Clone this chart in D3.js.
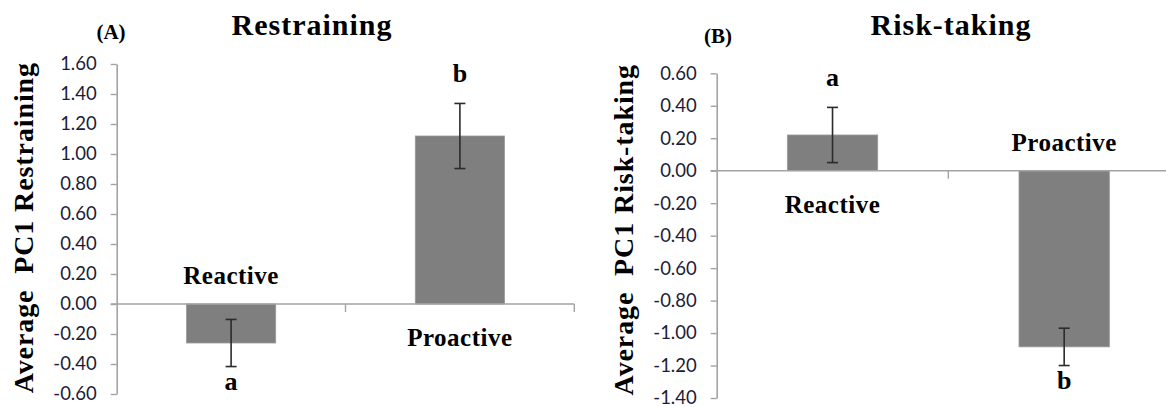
<!DOCTYPE html>
<html>
<head>
<meta charset="utf-8">
<script src="https://cdn.jsdelivr.net/npm/d3@7"></script>
<style>
  body { margin: 0; background: #fff; }
  svg { display: block; }
</style>
</head>
<body>
<svg id="chart" width="1166" height="407"></svg>
<script>
// data
const categories = ["Reactive", "Proactive"];
const restrainMean = [-0.26, 1.12];
const restrainErr = [0.157, 0.217];
const restrainLetters = ["a", "b"];
const restrainTicks = [-0.6, -0.4, -0.2, 0, 0.2, 0.4, 0.6, 0.8, 1.0, 1.2, 1.4, 1.6];

const riskMean = [0.22, -1.085];
const riskErr = [0.17, 0.115];
const riskLetters = ["a", "b"];
const riskTicks = [-1.4, -1.2, -1.0, -0.8, -0.6, -0.4, -0.2, 0, 0.2, 0.4, 0.6];

let svg = d3.select("#chart");
let serif = "'Liberation Serif', 'Times New Roman', serif";
let tickFont = "Lato, 'Liberation Sans', sans-serif";
let axisGrey = "#a3a3a3";
let barGrey = "#7f7f7f";

function drawPanel(p) {
  let g = svg.append("g");

  let y = d3.scaleLinear()
    .domain(d3.extent(p.ticks))
    .range([p.bottom, p.top]);

  let x = d3.scaleBand()
    .domain(categories)
    .range([p.left, p.right])
    .padding(0);

  let bw = x.step() * 0.39;
  let data = categories.map((c, i) => ({cat: c, mean: p.mean[i], err: p.err[i], letter: p.letters[i]}));

  // y axis
  let yAxis = d3.axisLeft(y)
    .tickValues(p.ticks)
    .tickSize(6)
    .tickSizeOuter(0)
    .tickPadding(14)
    .tickFormat(d => d.toFixed(2));

  let ya = g.append("g")
    .attr("transform", "translate(" + p.left + ",0)")
    .call(yAxis);
  ya.select(".domain").attr("stroke", axisGrey).attr("stroke-width", 1.6);
  ya.selectAll(".tick line").attr("stroke", axisGrey).attr("stroke-width", 1.4);
  ya.selectAll(".tick text")
    .style("font-family", tickFont)
    .style("font-size", "18.5px")
    .attr("fill", "#1c1c3a");

  // bars
  g.selectAll(".bar")
    .data(data)
    .enter().append("rect")
    .attr("class", "bar")
    .attr("x", d => x(d.cat) + (x.bandwidth() - bw) / 2)
    .attr("width", bw)
    .attr("y", d => y(Math.max(0, d.mean)))
    .attr("height", d => Math.abs(y(d.mean) - y(0)))
    .attr("fill", barGrey)
    .attr("stroke", "#9a9a9a")
    .attr("stroke-width", 0.8);

  // zero line + category ticks
  g.append("line")
    .attr("x1", p.left - 6).attr("x2", p.right)
    .attr("y1", y(0)).attr("y2", y(0))
    .attr("stroke", axisGrey)
    .attr("stroke-width", 1.4);

  let bounds = categories.map(c => x(c) + x.step());
  g.selectAll(".cattick")
    .data(bounds)
    .enter().append("line")
    .attr("x1", d => d).attr("x2", d => d)
    .attr("y1", y(0)).attr("y2", y(0) + 8)
    .attr("stroke", axisGrey)
    .attr("stroke-width", 1.4);

  // error bars
  let cx = d => x(d.cat) + x.bandwidth() / 2;
  let eb = g.selectAll(".err").data(data).enter().append("g");
  eb.append("line")
    .attr("x1", cx).attr("x2", cx)
    .attr("y1", d => y(d.mean + d.err)).attr("y2", d => y(d.mean - d.err));
  eb.append("line")
    .attr("x1", d => cx(d) - 5.5).attr("x2", d => cx(d) + 5.5)
    .attr("y1", d => y(d.mean + d.err)).attr("y2", d => y(d.mean + d.err));
  eb.append("line")
    .attr("x1", d => cx(d) - 5.5).attr("x2", d => cx(d) + 5.5)
    .attr("y1", d => y(d.mean - d.err)).attr("y2", d => y(d.mean - d.err));
  eb.selectAll("line").attr("stroke", "#2b2b2b").attr("stroke-width", 1.6);

  // category names on the other side of zero
  g.selectAll(".catlabel")
    .data(data)
    .enter().append("text")
    .attr("x", cx)
    .attr("y", d => d.mean < 0 ? y(0) - 20 : y(0) + 42)
    .attr("text-anchor", "middle")
    .style("font-family", serif)
    .style("font-weight", "bold")
    .style("font-size", "25px")
    .style("letter-spacing", "0.5px")
    .text(d => d.cat);

  // significance letters
  g.selectAll(".letter")
    .data(data)
    .enter().append("text")
    .attr("x", cx)
    .attr("y", d => d.mean >= 0 ? y(d.mean + d.err) - 21 : y(d.mean - d.err) + 23)
    .attr("text-anchor", "middle")
    .style("font-family", serif)
    .style("font-weight", "bold")
    .style("font-size", "26px")
    .text(d => d.letter);

  // y axis title
  g.append("text")
    .attr("transform", "translate(" + p.ylabX + "," + p.ylabTop + ") rotate(-90)")
    .attr("text-anchor", "end")
    .style("font-family", serif)
    .style("font-weight", "bold")
    .style("font-size", "28px")
    .style("letter-spacing", "0.9px")
    .style("white-space", "pre")
    .text(p.ylabel);

  // panel letter and title
  g.append("text")
    .attr("x", p.tagX).attr("y", p.tagY)
    .attr("text-anchor", "middle")
    .style("font-family", serif)
    .style("font-weight", "bold")
    .style("font-size", "21px")
    .text(p.tag);

  g.append("text")
    .attr("x", p.titleX).attr("y", 35)
    .attr("text-anchor", "middle")
    .style("font-family", serif)
    .style("font-weight", "bold")
    .style("font-size", "30px")
    .style("letter-spacing", "1px")
    .text(p.title);
}

drawPanel({
  left: 116.7, right: 574.3, top: 64, bottom: 394,
  ticks: restrainTicks, mean: restrainMean, err: restrainErr, letters: restrainLetters,
  ylabel: "Average  PC1 Restraining", ylabX: 33, ylabTop: 62,
  tag: "(A)", tagX: 111, tagY: 39,
  title: "Restraining", titleX: 312
});

drawPanel({
  left: 716.7, right: 1180, top: 73.3, bottom: 398,
  ticks: riskTicks, mean: riskMean, err: riskErr, letters: riskLetters,
  ylabel: "Average  PC1 Risk-taking", ylabX: 633, ylabTop: 64,
  tag: "(B)", tagX: 718, tagY: 43,
  title: "Risk-taking", titleX: 951
});
</script>
</body>
</html>
